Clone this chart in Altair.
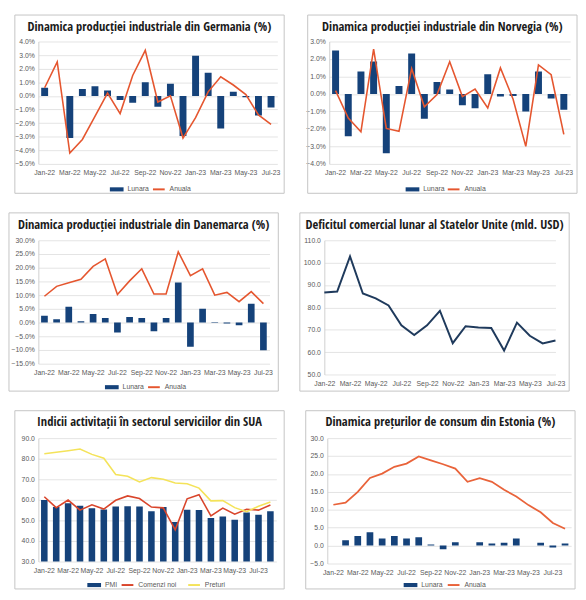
import altair as alt
import pandas as pd

# ---------------- categories ----------------
months = ["Jan-22", "Feb-22", "Mar-22", "Apr-22", "May-22", "Jun-22", "Jul-22", "Aug-22",
          "Sep-22", "Oct-22", "Nov-22", "Dec-22", "Jan-23", "Feb-23", "Mar-23", "Apr-23",
          "May-23", "Jun-23", "Jul-23"]
months_ext = months + ["Aug-23"]
x_labels = ["Jan-22", "Mar-22", "May-22", "Jul-22", "Sep-22", "Nov-22", "Jan-23",
            "Mar-23", "May-23", "Jul-23"]

# ---------------- Germany (%) ----------------
de_lunara = [0.6, None, -3.1, 0.5, 0.7, 0.4, -0.3, -0.5, 1.0, -0.8, 0.9, -2.95, 2.95, 1.7,
             -2.4, 0.3, -0.1, -1.45, -0.85]
de_anuala = [0.6, 2.5, -4.2, -3.2, -1.5, 0.2, -1.3, 1.5, 3.35, -0.45, 0.0, -3.1, -1.6, 0.3,
             1.4, 0.8, 0.1, -1.4, -2.1]
de_yticks = [-5, -4, -3, -2, -1, 0, 1, 2, 3, 4]

# ---------------- Norway (%) ----------------
no_lunara = [2.48, -2.42, 1.28, 1.86, -3.39, 0.45, 2.31, -1.42, 0.69, 0.26, -0.65, -0.82,
             1.12, -0.15, -0.12, -1.0, 1.28, -0.26, -0.91]
no_anuala = [0.19, -1.38, -2.16, 2.57, -1.97, -2.14, 1.45, -0.73, -0.04, 1.84, -0.15, 0.28,
             -0.8, 1.49, -0.3, -3.0, 1.66, 1.1, -2.31]
no_yticks = [-4, -3, -2, -1, 0, 1, 2, 3]

# ---------------- Denmark (%) ----------------
dk_lunara = [2.5, 1.2, 5.8, 0.5, 3.1, 1.7, -3.6, 2.0, 1.7, -3.2, 1.7, 14.6, -8.8, 5.0, 0.2,
             -0.3, -0.95, 6.9, -10.1]
dk_anuala = [9.6, 13.2, 14.5, 15.8, 20.5, 23.2, 10.2, 15.2, 19.6, 10.4, 10.4, 25.8, 17.1,
             19.6, 10.0, 11.0, 7.6, 11.3, 6.9]
dk_yticks = [-15, -10, -5, 0, 5, 10, 15, 20, 25, 30]

# ---------------- US trade deficit (bn USD) ----------------
us_deficit = [86.7, 87.1, 102.8, 86.2, 84.0, 80.9, 72.0, 67.6, 72.0, 78.5, 64.0, 71.6, 71.0,
              70.8, 60.7, 73.2, 67.3, 63.9, 65.2]
us_yticks = [50, 60, 70, 80, 90, 100, 110]

# ---------------- US services indices ----------------
sv_pmi = [59.9, 56.5, 58.3, 57.1, 55.9, 55.3, 56.7, 56.9, 56.7, 54.4, 56.5, 49.2, 55.2, 55.1,
          51.2, 51.9, 50.3, 53.9, 52.7, 54.5]
sv_comenzi = [61.5, 56.2, 59.9, 55.0, 57.6, 55.5, 59.8, 61.9, 60.6, 56.5, 56.1, 45.4, 60.5,
              62.5, 52.2, 56.0, 53.0, 55.4, 55.0, 57.5]
sv_preturi = [82.4, 83.1, 83.9, 84.7, 82.1, 80.2, 72.3, 71.5, 68.7, 70.8, 70.0, 68.2, 67.8,
              65.7, 59.5, 59.6, 56.2, 54.2, 56.9, 58.9]
sv_yticks = [30, 40, 50, 60, 70, 80, 90]

# ---------------- Estonia CPI (%) ----------------
ee_lunara = [None, 1.5, 2.7, 3.7, 2.0, 2.7, 2.0, 2.3, 0.3, -1.0, 0.9, None, 0.9, 0.6, 0.8,
             2.0, None, 0.8, -0.5, 0.6]
ee_anuala = [11.4, 12.0, 15.0, 18.9, 20.1, 22.0, 22.9, 24.9, 23.8, 22.7, 21.5, 17.8, 18.8,
             17.8, 15.6, 13.7, 11.3, 9.3, 6.3, 4.7]
ee_yticks = [-5, 0, 5, 10, 15, 20, 25, 30]

# ---------------- styles ----------------
NAVY = "#15427a"
ORANGE = "#e5562f"
EE_ORANGE = "#e9633a"
RED = "#d9452b"
YELLOW = "#f4e35a"
DEFNAVY = "#1f3a5c"
FONT = "Liberation Sans, Arial, sans-serif"
TITLE_FONT = "'Open Sans Condensed', 'Roboto Condensed', 'DejaVu Sans Condensed', sans-serif"
LABEL_COLOR = "#595959"
ONE = pd.DataFrame({"k": [0]})


def frame_layers(title, L, W, R, T, H, B):
    border = alt.Chart(ONE).mark_rect(fill="transparent", stroke="#c4c4c4", strokeWidth=1).encode(
        x=alt.value(-L), x2=alt.value(W + R), y=alt.value(-T), y2=alt.value(H + B))
    ttl = alt.Chart(ONE).mark_text(font=TITLE_FONT, fontSize=12.8, fontWeight="bold",
                                   color="#1b1b1b", align="center",
                                   baseline="alphabetic").encode(
        x=alt.value((W + R - L) / 2), y=alt.value(-T + 16), text=alt.value(title))
    return border, ttl


def x_enc(domain, band=True):
    if band:
        scale = alt.Scale(type="band", domain=domain, paddingInner=0.45, paddingOuter=0.225)
    else:
        scale = alt.Scale(type="point", domain=domain, padding=0)
    return alt.X("month:N", scale=scale, title=None,
                 axis=alt.Axis(values=x_labels, labelAngle=0, ticks=False, domain=False,
                               grid=False, labelFont=FONT, labelFontSize=7,
                               labelColor=LABEL_COLOR, labelPadding=5))


def y_enc(lo, hi, ticks, pct):
    expr = "format(datum.value, '.1f') + '%'" if pct else "format(datum.value, '.1f')"
    return alt.Y("value:Q", scale=alt.Scale(domain=[lo, hi], nice=False, zero=False),
                 title=None,
                 axis=alt.Axis(values=ticks, labelExpr=expr, grid=True, gridColor="#dcdcdc",
                               gridWidth=0.8, domain=True, domainColor="#cfcfcf", ticks=False,
                               labelFont=FONT, labelFontSize=7, labelColor=LABEL_COLOR,
                               labelPadding=4))


def bar_legend(lx, ly):
    return alt.Legend(orient="none", legendX=lx, legendY=ly, title=None, direction="horizontal",
                      symbolType="M-1,-0.3H1V0.3H-1Z", symbolSize=196, symbolStrokeWidth=0,
                      labelFont=FONT, labelFontSize=7, labelColor=LABEL_COLOR)


def line_legend(lx, ly):
    return alt.Legend(orient="none", legendX=lx, legendY=ly, title=None, direction="horizontal",
                      symbolType="stroke", symbolSize=144, symbolStrokeWidth=2,
                      labelFont=FONT, labelFontSize=7, labelColor=LABEL_COLOR,
                      columnPadding=8)


def bar_line_panel(title, mlist, bar_name, bar_vals, lines, ylo, yhi, yticks, pct,
                   dims, bar_lx, line_lx, width_line=1.6):
    L, W, R, T, H, B = dims
    border, ttl = frame_layers(title, L, W, R, T, H, B)
    xb = x_enc(mlist)
    yb = y_enc(ylo, yhi, yticks, pct)
    df_b = pd.DataFrame({"month": mlist, "value": bar_vals, "series": bar_name})
    bars = alt.Chart(df_b).mark_bar(clip=True).encode(
        x=xb, y=yb,
        color=alt.Color("series:N", scale=alt.Scale(domain=[bar_name], range=[NAVY]),
                        legend=bar_legend(bar_lx - L, H + B - 11)))
    rows = []
    names, colors = [], []
    for name, vals, col in lines:
        names.append(name)
        colors.append(col)
        for m, v in zip(mlist, vals):
            rows.append({"month": m, "value": v, "series": name})
    df_l = pd.DataFrame(rows)
    ln = alt.Chart(df_l).mark_line(strokeWidth=width_line).encode(
        x=xb, y=yb,
        stroke=alt.Stroke("series:N", scale=alt.Scale(domain=names, range=colors),
                          legend=line_legend(line_lx - L, H + B - 11)))
    return alt.layer(border, bars, ln, ttl).properties(width=W, height=H)


de = bar_line_panel("Dinamica producției industriale din Germania (%)", months,
                    "Lunara", de_lunara, [("Anuala", de_anuala, ORANGE)],
                    -5, 4, de_yticks, True, (24, 244, 7, 27, 125, 30), 97, 140)
no = bar_line_panel("Dinamica producției industriale din Norvegia (%)", months,
                    "Lunara", no_lunara, [("Anuala", no_anuala, ORANGE)],
                    -4, 3, no_yticks, True, (22, 246, 7, 27, 125, 30), 100, 142)
dk = bar_line_panel("Dinamica producției industriale din Danemarca (%)", months,
                    "Lunara", dk_lunara, [("Anuala", dk_anuala, ORANGE)],
                    -15, 30, dk_yticks, True, (30, 236, 9, 28, 126, 28), 98, 141)

# US deficit line-only panel
uL, uW, uR, uT, uH, uB = (25, 236, 14, 28, 137, 17)
u_border, u_ttl = frame_layers("Deficitul comercial lunar al Statelor Unite (mld. USD)",
                               uL, uW, uR, uT, uH, uB)
df_us = pd.DataFrame({"month": months, "value": us_deficit})
us_line = alt.Chart(df_us).mark_line(strokeWidth=2, color=DEFNAVY).encode(
    x=x_enc(months, band=False), y=y_enc(50, 110, us_yticks, False))
us = alt.layer(u_border, us_line, u_ttl).properties(width=uW, height=uH)

sv = bar_line_panel("Indicii activitații în sectorul serviciilor din SUA", months_ext,
                    "PMI", sv_pmi, [("Comenzi noi", sv_comenzi, RED),
                                    ("Preturi", sv_preturi, YELLOW)],
                    30, 90, sv_yticks, False, (24, 243, 8, 28, 126, 28), 74, 108)
ee = bar_line_panel("Dinamica prețurilor de consum din Estonia (%)", months_ext,
                    "Lunara", ee_lunara, [("Anuala", ee_anuala, EE_ORANGE)],
                    -5, 30, ee_yticks, False, (22, 249, 4, 28, 128, 26), 100, 144,
                    width_line=1.8)


def indep(c):
    return c.resolve_scale(color="independent", stroke="independent").resolve_legend(
        color="independent", stroke="independent")


row1 = indep(alt.hconcat(de, no, spacing=20))
row2 = indep(alt.hconcat(dk, us, spacing=20))
row3 = indep(alt.hconcat(sv, ee, spacing=20))

chart = indep(alt.vconcat(row1, row2, row3, spacing=18)).properties(
    padding=0, background="white"
).configure_view(strokeWidth=0)

chart.save("out.html", embed_options={"renderer": "svg", "actions": False})
